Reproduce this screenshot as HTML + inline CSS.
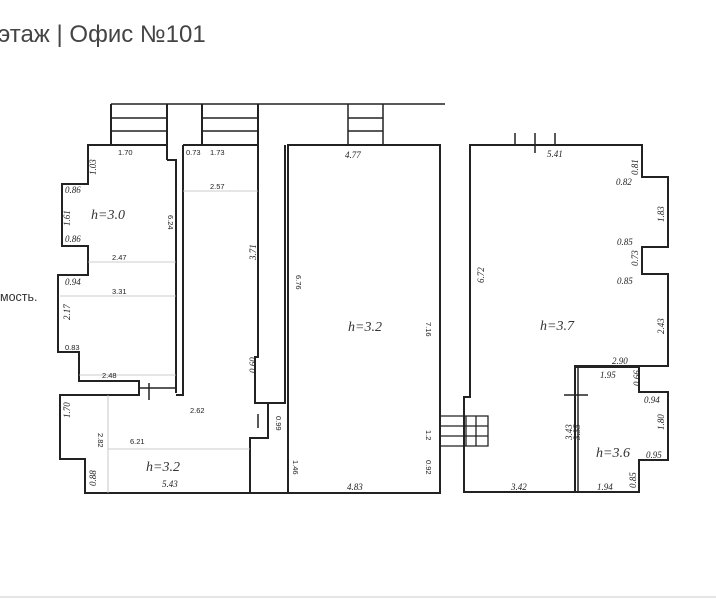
<!DOCTYPE html>
<html><head><meta charset="utf-8"><style>
html,body{margin:0;padding:0;background:#fff;width:716px;height:600px;overflow:hidden}
svg{position:absolute;left:0;top:0}
.h{font-family:"Liberation Serif",serif;font-style:italic;font-size:14px;fill:#333}
.s{font-family:"Liberation Sans",sans-serif;font-size:7.5px;fill:#222}
.i{font-family:"Liberation Serif",serif;font-style:italic;font-size:9px;fill:#222}
</style></head><body>
<svg width="716" height="600" viewBox="0 0 716 600">
<text x="-2" y="42" font-family="Liberation Sans, DejaVu Sans, sans-serif" font-size="24" fill="#444">этаж | Офис №101</text>
<text x="0" y="301" font-family="Liberation Sans, sans-serif" font-size="12.5" fill="#333">мость.</text>
<line x1="0" y1="597" x2="716" y2="597" stroke="#ddd" stroke-width="1.5"/>
<g fill="none" stroke="#222" stroke-width="2">
<line x1="111" y1="104" x2="445" y2="104" stroke-width="1.5"/>
<path d="M111 104V145M167 104V160M202 104V145M258 104V145"/>
<path d="M111 118H167M111 131H167M202 118H258M202 131H258" stroke-width="1.5"/>
<path d="M348 104V145M383 104V145M348 118H383M348 131H383" stroke-width="1.5"/>
<path d="M167 145H88V184H62V246H88V275H58V352H79V381H139V393"/>
<path d="M167 160H176V393"/>
<path d="M183 145H258V357H255V403H285V145"/>
<path d="M183 145V395H176"/>
<path d="M139 388H176" stroke-width="1.5"/>
<path d="M149 383V400" stroke-width="1.5"/>
<path d="M139 393V395H60V459H85V493H288"/>
<path d="M255 403H268V438H250V493"/>
<path d="M258 414V428" stroke-width="1.5"/>
<path d="M288 145H440V493H288Z"/>
<path d="M470 145H642V177H668V247H642V274H668V366H575V492H464V397H470Z"/>
<path d="M575 367H639V392H668V460H639V492H575"/>
<path d="M578 367V492" stroke-width="1.5"/>
<path d="M564 395H588" stroke-width="1.5"/>
<path d="M515 133V145M535 133V153M555 133V145" stroke-width="1.5"/>
<path d="M440 416H488V446H440M440 426H488M440 436H488M466 416V446M476 416V446" stroke-width="1.3"/>
</g>
<g stroke="#bbb" stroke-width="0.8">
<line x1="183" y1="191" x2="258" y2="191"/>
<line x1="88" y1="262" x2="176" y2="262"/>
<line x1="60" y1="296" x2="176" y2="296"/>
<line x1="79" y1="375" x2="176" y2="375"/>
<line x1="108" y1="395" x2="108" y2="493"/>
<line x1="108" y1="449" x2="250" y2="449"/>
</g>
<text class="h" x="91" y="219">h=3.0</text>
<text class="h" x="146" y="471">h=3.2</text>
<text class="h" x="348" y="331">h=3.2</text>
<text class="h" x="540" y="330">h=3.7</text>
<text class="h" x="596" y="457">h=3.6</text>
<g class="s">
<text x="118" y="155">1.70</text><text x="186" y="155">0.73</text><text x="210" y="155">1.73</text>
<text x="210" y="189">2.57</text><text x="112" y="260">2.47</text><text x="112" y="294">3.31</text>
<text x="65" y="350">0.83</text><text x="102" y="378">2.48</text>
<text x="190" y="413">2.62</text><text x="130" y="444">6.21</text>
<text x="345" y="158" class="i">4.77</text><text x="347" y="490" class="i">4.83</text>
<text x="168" y="215" transform="rotate(90 168 215)">6.24</text>
<text x="296" y="275" transform="rotate(90 296 275)">6.76</text>
<text x="426" y="322" transform="rotate(90 426 322)">7.16</text>
<text x="276" y="416" transform="rotate(90 276 416)">0.99</text>
<text x="426" y="430" transform="rotate(90 426 430)">1.2</text>
<text x="293" y="460" transform="rotate(90 293 460)">1.46</text>
<text x="426" y="460" transform="rotate(90 426 460)">0.92</text>
<text x="98" y="433" transform="rotate(90 98 433)">2.82</text>
</g>
<g class="i">
<text x="65" y="193">0.86</text><text x="65" y="242">0.86</text><text x="65" y="285">0.94</text>
<text x="162" y="487">5.43</text>
<text x="547" y="157">5.41</text><text x="616" y="185">0.82</text><text x="617" y="245">0.85</text>
<text x="617" y="284">0.85</text><text x="612" y="364">2.90</text><text x="600" y="378">1.95</text>
<text x="644" y="403">0.94</text><text x="646" y="458">0.95</text>
<text x="511" y="490">3.42</text><text x="597" y="490">1.94</text>
<text x="96" y="175" transform="rotate(-90 96 175)">1.03</text>
<text x="484" y="283" transform="rotate(-90 484 283)">6.72</text>
<text x="256" y="260" transform="rotate(-90 256 260)">3.71</text>
<text x="256" y="373" transform="rotate(-90 256 373)">0.60</text>
<text x="70" y="226" transform="rotate(-90 70 226)">1.61</text>
<text x="70" y="320" transform="rotate(-90 70 320)">2.17</text>
<text x="70" y="418" transform="rotate(-90 70 418)">1.70</text>
<text x="96" y="486" transform="rotate(-90 96 486)">0.88</text>
<text x="638" y="175" transform="rotate(-90 638 175)">0.81</text>
<text x="664" y="222" transform="rotate(-90 664 222)">1.83</text>
<text x="638" y="266" transform="rotate(-90 638 266)">0.73</text>
<text x="664" y="334" transform="rotate(-90 664 334)">2.43</text>
<text x="640" y="386" transform="rotate(-90 640 386)">0.66</text>
<text x="664" y="430" transform="rotate(-90 664 430)">1.80</text>
<text x="636" y="488" transform="rotate(-90 636 488)">0.85</text>
<text x="572" y="440" transform="rotate(-90 572 440)">3.43</text>
<text x="580" y="440" transform="rotate(-90 580 440)">3.35</text>
</g>
</svg>
</body></html>
